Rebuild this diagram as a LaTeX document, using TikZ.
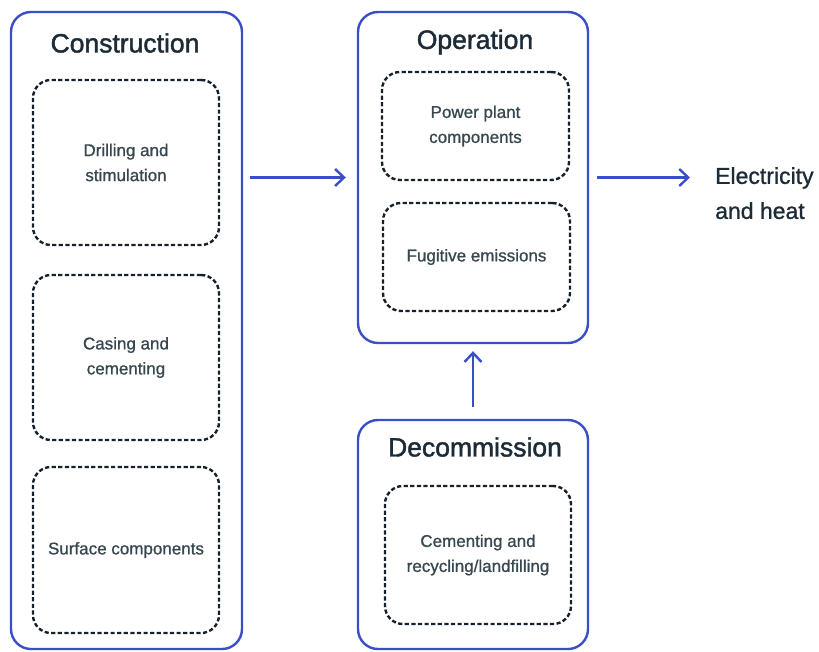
\documentclass[tikz,border=0pt]{standalone}
\usepackage{fontspec}
\setmainfont{Liberation Sans}
\newfontfamily\medfont[FakeBold=1.6]{Liberation Sans}
\newfontfamily\smfont[FakeBold=1.0]{Liberation Sans}
\usetikzlibrary{arrows.meta}
\definecolor{frameblue}{HTML}{3A4FC6}
\definecolor{darktxt}{HTML}{1C2B36}
\definecolor{graytxt}{HTML}{37474F}
\definecolor{dashcol}{HTML}{16212B}
\begin{document}
\begin{tikzpicture}[x=1pt,y=-1pt,
  stage/.style={draw=frameblue,line width=2.4pt,rounded corners=20pt,minimum width=#1},
  sub/.style={draw=dashcol,line width=2.4pt,dash pattern=on 4.2pt off 2.4pt,rounded corners=18pt,
     text=graytxt,align=center,font=\smfont\fontsize{17}{25}\selectfont},
  title/.style={text=darktxt,font=\medfont\fontsize{26.5}{30}\selectfont,inner sep=0pt},
  arr/.style={draw=frameblue,line width=2.4pt,-{Straight Barb[length=9pt,width=17pt,line width=2.4pt]}}
]
\useasboundingbox (0,0) rectangle (819,651);
% stages
\node[stage=231pt,minimum height=637pt] (constr) at (126.5,330.5) {};
\node[stage=230pt,minimum height=331pt] (op) at (473,177.5) {};
\node[stage=230pt,minimum height=229pt] (decom) at (473,534.5) {};
% titles
\node[title] (tconstr) at (125,43) {Construction};
\node[title] (top) at (475,42) {Operation};
\node[title] (tdecom) at (475,447) {Decommission};
% sub boxes
\node[sub,minimum width=186pt,minimum height=165pt] (drill) at (126,162.5) {Drilling and\\stimulation};
\node[sub,minimum width=186pt,minimum height=165pt] (casing) at (126,357.5) {Casing and\\cementing};
\node[sub,minimum width=186pt,minimum height=166pt] (surface) at (126,550) {Surface components};
\node[sub,minimum width=187pt,minimum height=108pt] (power) at (475.5,126) {Power plant\\components};
\node[sub,minimum width=187pt,minimum height=108pt] (fugitive) at (476.5,257) {Fugitive emissions};
\node[sub,minimum width=186pt,minimum height=138pt] (cement) at (478,555) {Cementing and\\recycling/landfilling};
% output text
\node[anchor=north west,inner sep=0pt,align=left,text=darktxt,font=\smfont\fontsize{23}{35}\selectfont] (elec) at (715,167) {Electricity\\and heat};
% arrows
\draw[arr,shorten <=7pt,shorten >=11pt] (constr.east |- op.center) -- (op.west);
\draw[arr,shorten <=8pt,shorten >=25pt] (op.east) -- (op.east -| elec.west);
\draw[arr,shorten <=12pt,shorten >=7pt] (decom.north) -- (op.south);
\end{tikzpicture}
\end{document}
